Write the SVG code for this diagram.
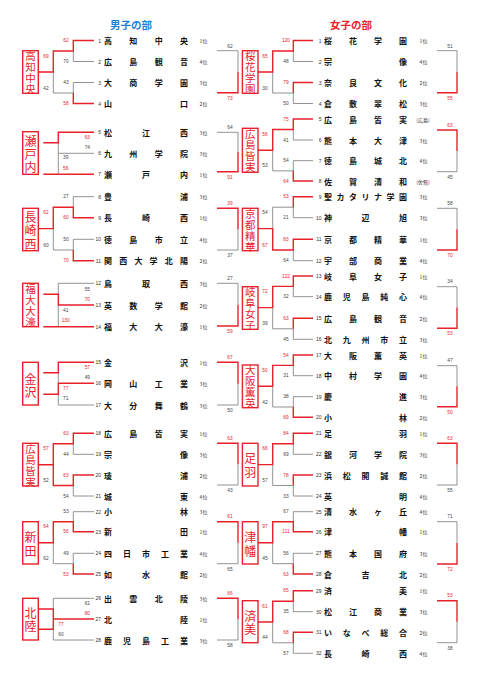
<svg xmlns="http://www.w3.org/2000/svg" width="481" height="680" viewBox="0 0 481 680">
<style>
.r{stroke:#e8212b;stroke-width:1.4;fill:none}
.g{stroke:#777;stroke-width:0.8;fill:none}
.nm{font-family:"Noto Sans CJK JP","Noto Sans",sans-serif;font-size:8px;font-weight:bold;fill:#111;text-anchor:middle;dominant-baseline:central}
.sd{font-family:"Liberation Sans",sans-serif;font-size:5px;fill:#333;text-anchor:end;dominant-baseline:central}
.rk{font-family:"Noto Sans CJK JP",sans-serif;font-size:5px;fill:#333;text-anchor:middle;dominant-baseline:central}
.sr{font-family:"Liberation Sans",sans-serif;font-size:4.8px;fill:#e8212b;text-anchor:middle;dominant-baseline:central}
.sg{font-family:"Liberation Sans",sans-serif;font-size:4.8px;fill:#444;text-anchor:middle;dominant-baseline:central}
.bx{fill:none;stroke:#e8212b;stroke-width:1.4}
.bt{font-family:"Noto Sans CJK JP",sans-serif;font-size:10.5px;fill:#e8212b;text-anchor:middle;dominant-baseline:central}
.bt2{font-family:"Noto Sans CJK JP",sans-serif;font-size:12px;fill:#e8212b;text-anchor:middle;dominant-baseline:central}
.tt{font-family:"Noto Sans CJK JP",sans-serif;font-size:10.5px;font-weight:bold;text-anchor:middle;dominant-baseline:central}
</style>
<rect width="481" height="680" fill="#fff"/>
<g id="titles">
<text class="tt" x="131" y="24" fill="#1e7fd6">男子の部</text>
<text class="tt" x="351" y="24" fill="#e8212b">女子の部</text>
</g>
<g id="connectors">
<g class="g">
<path d="M94 61.5H73.3V51M94 82.5H73.3V93H53.3V72"/>
<path d="M94 153.3H58.3M58.3 142.8V174.3"/>
<path d="M94 196.7H73.3V207.2M94 239.3H73.3V250H53.3V228.6"/>
<path d="M94 283.3H58.3V294.2M58.3 305V326.7"/>
<path d="M58.3 372.8V383.3M58.3 394.2V405H94"/>
<path d="M94 454.3H73.3V443.8M94 496H73.3V485.5"/>
<path d="M94 511.7H73.3V521.7M94 553.3H73.3V563.7H53.3V542.7"/>
<path d="M94 598.3H53.3V609M53.3 629.3V640H94"/>
<path d="M217 50.7H238V71.7M217 132.3H238V152M217 250H238V229.2M217 283.3H238V304.7M217 405H238V383.7M217 485H238V464.2M217 563.7H238V542.7M217 640H238V619.2"/>
<path d="M313 61.5H293.3V51M313 103.5H293.3V93M293.3 93H272.7V72"/>
<path d="M313 140H293.3V129.5M313 160.7H293.3V170.85H272.7V150.2"/>
<path d="M313 217.7H293.3V207.2M293.3 207.2H272.7V228.6M313 260.7H293.3V250"/>
<path d="M313 296.7H293.3V286.35M313 339.3H293.3V328.8M293.3 328.8H272.7V307.6"/>
<path d="M313 375.7H293.3V365.35M313 396.7H293.3V407H272.7V386.2"/>
<path d="M313 454.3H293.3V443.8M313 496H293.3V485.5M293.3 485.5H272.7V464.65"/>
<path d="M313 511.7H293.3V521.7M313 553.3H293.3V563.65H272.7V542.7"/>
<path d="M313 611.7H293.3V601.2M313 653.3H293.3V642.8M293.3 642.8H272.7V622"/>
<path d="M437 50.7H457V71.7M437 171.7H457V150.9M437 208.3H457V229.2M437 286.7H457V307.5M437 365.7H457V386.2M437 485H457V464.2M437 521.7H457V542.9M437 642.7H457V621.7"/>
</g>
<g class="r">
<path d="M94 40.5H73.3V51H53.3V72H38.3M94 103.5H73.3V93"/>
<path d="M94 132.3H58.3V142.8H43.3M43.3 174.3H94"/>
<path d="M94 217.7H73.3V207.2H53.3V228.6H38.3M94 260.7H73.3V250"/>
<path d="M43.3 294.2H58.3V305H94M43.3 326.7H94"/>
<path d="M94 362.3H58.3V372.8H43.3M94 383.3H58.3V394.2H43.3"/>
<path d="M94 433.3H73.3V443.8H53.3V464.7H38.3M94 475H73.3V485.5H53.3V464.7"/>
<path d="M94 531.7H73.3V521.7H53.3V542.7H38.3M94 574H73.3V563.7"/>
<path d="M38.3 609H53.3V629.3H38.3M53.3 619H94"/>
<path d="M217 92.7H238V71.7M217 171.7H238V152M217 208.3H238V229.2M217 326H238V304.7M217 362.3H238V383.7M217 443.3H238V464.2M217 521.7H238V542.7M217 598.3H238V619.2"/>
<path d="M313 40.5H293.3V51H272.7V72H258M313 82.5H293.3V93"/>
<path d="M313 119H293.3V129.5H272.7V150.2H258M313 181H293.3V170.85"/>
<path d="M313 196.7H293.3V207.2M313 239.3H293.3V250H272.7V228.6H258"/>
<path d="M313 276H293.3V286.35H272.7V307.6H258M313 318.3H293.3V328.8"/>
<path d="M313 355H293.3V365.35H272.7V386.2H258M313 417.3H293.3V407"/>
<path d="M313 433.3H293.3V443.8H272.7V464.65H258M313 475H293.3V485.5"/>
<path d="M313 531.7H293.3V521.7H272.7V542.7H258M313 574H293.3V563.65"/>
<path d="M313 590.7H293.3V601.2H272.7V622H258M313 632.3H293.3V642.8"/>
<path d="M437 92.7H457V71.7M437 130H457V150.9M437 250H457V229.2M437 328.3H457V307.5M437 406.7H457V386.2M437 443.3H457V464.2M437 564H457V542.9M437 600.7H457V621.7"/>
</g>
<g id="scores">
<text class="sr" x="66" y="40.5">62</text><text class="sg" x="66" y="61.5">70</text><text class="sg" x="66" y="82.5">43</text><text class="sr" x="66" y="103.5">58</text><text class="sr" x="46" y="56">69</text><text class="sg" x="46" y="88">42</text>
<text class="sr" x="87.3" y="137.7">63</text><text class="sg" x="87.3" y="147.3">74</text><text class="sg" x="65.7" y="157.7">39</text><text class="sr" x="65.7" y="168.3">56</text>
<text class="sg" x="66" y="196.7">27</text><text class="sr" x="66" y="217.7">60</text><text class="sg" x="66" y="239.3">50</text><text class="sr" x="66" y="260.7">70</text><text class="sr" x="46" y="212.2">62</text><text class="sg" x="46" y="245">60</text>
<text class="sg" x="87.3" y="289.3">55</text><text class="sr" x="87.3" y="299.3">70</text><text class="sg" x="65.7" y="310">41</text><text class="sr" x="65.7" y="320">130</text>
<text class="sr" x="87.3" y="367.7">57</text><text class="sg" x="87.3" y="377.7">49</text><text class="sr" x="65.7" y="388.3">77</text><text class="sg" x="65.7" y="398.3">71</text>
<text class="sr" x="66" y="433.3">63</text><text class="sg" x="66" y="454.3">44</text><text class="sr" x="66" y="475">63</text><text class="sg" x="66" y="496">54</text><text class="sr" x="46" y="448.8">57</text><text class="sg" x="46" y="480.5">52</text>
<text class="sg" x="66" y="511.7">53</text><text class="sr" x="66" y="531.7">56</text><text class="sg" x="66" y="553.3">49</text><text class="sr" x="66" y="574">53</text><text class="sr" x="46" y="526.7">64</text><text class="sg" x="46" y="558.7">62</text>
<text class="sg" x="87.3" y="603.3">61</text><text class="sr" x="87.3" y="613.3">80</text><text class="sr" x="61" y="624">77</text><text class="sg" x="61" y="634.3">60</text>
<text class="sg" x="230" y="46">62</text><text class="sr" x="230" y="98.3">73</text>
<text class="sg" x="230" y="127.3">64</text><text class="sr" x="230" y="177">91</text>
<text class="sr" x="230" y="203.3">39</text><text class="sg" x="230" y="255.5">37</text>
<text class="sg" x="230" y="278.3">27</text><text class="sr" x="230" y="331.5">59</text>
<text class="sr" x="230" y="357.3">67</text><text class="sg" x="230" y="410.5">50</text>
<text class="sr" x="230" y="438.3">63</text><text class="sg" x="230" y="490.5">43</text>
<text class="sr" x="230" y="516.7">61</text><text class="sg" x="230" y="569.2">65</text>
<text class="sr" x="230" y="593.3">66</text><text class="sg" x="230" y="645.5">58</text>
<text class="sr" x="286" y="40.5">120</text><text class="sg" x="286" y="61.5">48</text><text class="sr" x="286" y="82.5">79</text><text class="sg" x="286" y="103.5">50</text><text class="sr" x="265" y="56">65</text><text class="sg" x="265" y="88">30</text>
<text class="sr" x="286" y="119">75</text><text class="sg" x="286" y="140">41</text><text class="sg" x="286" y="160.7">54</text><text class="sr" x="286" y="181">64</text><text class="sr" x="265" y="134.5">56</text><text class="sg" x="265" y="165.9">53</text>
<text class="sr" x="286" y="196.7">53</text><text class="sg" x="286" y="217.7">21</text><text class="sr" x="286" y="239.3">83</text><text class="sg" x="286" y="260.7">64</text><text class="sg" x="265" y="212.2">54</text><text class="sr" x="265" y="245">67</text>
<text class="sr" x="286" y="276">122</text><text class="sg" x="286" y="296.7">32</text><text class="sr" x="286" y="318.3">63</text><text class="sg" x="286" y="339.3">45</text><text class="sr" x="265" y="291.4">72</text><text class="sg" x="265" y="323.8">39</text>
<text class="sr" x="286" y="355">54</text><text class="sg" x="286" y="375.7">31</text><text class="sg" x="286" y="396.7">38</text><text class="sr" x="286" y="417.3">69</text><text class="sr" x="265" y="370.4">50</text><text class="sg" x="265" y="402">42</text>
<text class="sr" x="286" y="433.3">84</text><text class="sg" x="286" y="454.3">69</text><text class="sr" x="286" y="475">78</text><text class="sg" x="286" y="496">33</text><text class="sr" x="265" y="448.8">66</text><text class="sg" x="265" y="480.5">57</text>
<text class="sg" x="286" y="511.7">67</text><text class="sr" x="286" y="531.7">111</text><text class="sg" x="286" y="553.3">56</text><text class="sr" x="286" y="574">63</text><text class="sr" x="265" y="526.7">97</text><text class="sg" x="265" y="558.7">45</text>
<text class="sr" x="286" y="590.7">65</text><text class="sg" x="286" y="611.7">35</text><text class="sr" x="286" y="632.3">68</text><text class="sg" x="286" y="653.3">57</text><text class="sr" x="265" y="606.2">61</text><text class="sg" x="265" y="637.8">44</text>
<text class="sg" x="450" y="46">51</text><text class="sr" x="450" y="98.3">55</text>
<text class="sr" x="450" y="125">63</text><text class="sg" x="450" y="177.2">45</text>
<text class="sg" x="450" y="203.3">58</text><text class="sr" x="450" y="255.5">70</text>
<text class="sg" x="450" y="281.7">34</text><text class="sr" x="450" y="333.8">53</text>
<text class="sg" x="450" y="360.7">47</text><text class="sr" x="450" y="412.2">50</text>
<text class="sr" x="450" y="438.3">63</text><text class="sg" x="450" y="490.5">55</text>
<text class="sg" x="450" y="516.7">71</text><text class="sr" x="450" y="569.5">72</text>
<text class="sr" x="450" y="595.7">53</text><text class="sg" x="450" y="648.2">38</text>
</g>
</g>
<g id="winners">
<g id="win-m1"><rect class="bx" x="22.7" y="50.7" width="15.6" height="42.6"/><text class="bt" x="30.5 30.5 30.5 30.5" y="55.5 66.5 77.5 88.5">高知中央</text></g>
<g id="win-m2"><rect class="bx" x="22.7" y="131.7" width="15.6" height="42.6"/><text class="bt2" x="30.5 30.5 30.5" y="140 153.3 166.7">瀬戸内</text></g>
<g id="win-m3"><rect class="bx" x="22.7" y="208.3" width="15.6" height="42.4"/><text class="bt2" x="30.5 30.5 30.5" y="216 229.5 243">長崎西</text></g>
<g id="win-m4"><rect class="bx" x="22.7" y="283.3" width="15.6" height="43.4"/><text class="bt" x="30.5 30.5 30.5 30.5" y="288.5 299.5 310.5 321.5">福大大濠</text></g>
<g id="win-m5"><rect class="bx" x="22.7" y="362.3" width="15.6" height="42.7"/><text class="bt2" x="30.5 30.5" y="378 391">金沢</text></g>
<g id="win-m6"><rect class="bx" x="22.7" y="443.3" width="15.6" height="42.7"/><text class="bt" x="30.5 30.5 30.5 30.5" y="448.2 459.2 470.2 481.2">広島皆実</text></g>
<g id="win-m7"><rect class="bx" x="22.7" y="521.7" width="15.6" height="42.3"/><text class="bt2" x="30.5 30.5" y="536.5 550">新田</text></g>
<g id="win-m8"><rect class="bx" x="22.7" y="598.3" width="15.6" height="41.7"/><text class="bt2" x="30.5 30.5" y="612.5 625.8">北陸</text></g>
<g id="win-w1"><rect class="bx" x="242.4" y="50.7" width="15.6" height="42.6"/><text class="bt" x="250.2 250.2 250.2 250.2" y="55.5 66.5 77.5 88.5">桜花学園</text></g>
<g id="win-w2"><rect class="bx" x="242.4" y="128.3" width="15.6" height="44"/><text class="bt" x="250.2 250.2 250.2 250.2" y="133.8 144.8 155.8 166.8">広島皆実</text></g>
<g id="win-w3"><rect class="bx" x="242.4" y="208.3" width="15.6" height="42.4"/><text class="bt" x="250.2 250.2 250.2 250.2" y="213 224 235 246">京都精華</text></g>
<g id="win-w4"><rect class="bx" x="242.4" y="286.7" width="15.6" height="42.6"/><text class="bt" x="250.2 250.2 250.2 250.2" y="291.5 302.5 313.5 324.5">岐阜女子</text></g>
<g id="win-w5"><rect class="bx" x="242.4" y="365" width="15.6" height="42.7"/><text class="bt" x="250.2 250.2 250.2 250.2" y="369.8 380.8 391.8 402.8">大阪薫英</text></g>
<g id="win-w6"><rect class="bx" x="242.4" y="443.3" width="15.6" height="42.7"/><text class="bt2" x="250.2 250.2" y="457.5 471.5">足羽</text></g>
<g id="win-w7"><rect class="bx" x="242.4" y="521.7" width="15.6" height="42.3"/><text class="bt2" x="250.2 250.2" y="536 550">津幡</text></g>
<g id="win-w8"><rect class="bx" x="242.4" y="600.7" width="15.6" height="42"/><text class="bt2" x="250.2 250.2" y="615 628.5">済美</text></g>
</g>
<g id="men">
<g id="m01"><text class="sd" x="101" y="40.5">1</text><text class="nm" x="108 133.3 158.7 184" y="40.5">高知中央</text><text class="rk" x="203.5" y="40.5">1位</text></g>
<g id="m02"><text class="sd" x="101" y="61.5">2</text><text class="nm" x="108 133.3 158.7 184" y="61.5">広島観音</text><text class="rk" x="203.5" y="61.5">4位</text></g>
<g id="m03"><text class="sd" x="101" y="82.5">3</text><text class="nm" x="108 133.3 158.7 184" y="82.5">大商学園</text><text class="rk" x="203.5" y="82.5">3位</text></g>
<g id="m04"><text class="sd" x="101" y="103.5">4</text><text class="nm" x="108 184" y="103.5">山口</text><text class="rk" x="203.5" y="103.5">2位</text></g>
<g id="m05"><text class="sd" x="101" y="132.3">5</text><text class="nm" x="108 146 184" y="132.3">松江西</text><text class="rk" x="203.5" y="132.3">3位</text></g>
<g id="m06"><text class="sd" x="101" y="153.3">6</text><text class="nm" x="108 133.3 158.7 184" y="153.3">九州学院</text><text class="rk" x="203.5" y="153.3">3位</text></g>
<g id="m07"><text class="sd" x="101" y="174.3">7</text><text class="nm" x="108 146 184" y="174.3">瀬戸内</text><text class="rk" x="203.5" y="174.3">1位</text></g>
<g id="m08"><text class="sd" x="101" y="196.7">8</text><text class="nm" x="108 184" y="196.7">豊浦</text><text class="rk" x="203.5" y="196.7">3位</text></g>
<g id="m09"><text class="sd" x="101" y="217.7">9</text><text class="nm" x="108 146 184" y="217.7">長崎西</text><text class="rk" x="203.5" y="217.7">1位</text></g>
<g id="m10"><text class="sd" x="101" y="239.3">10</text><text class="nm" x="108 133.3 158.7 184" y="239.3">徳島市立</text><text class="rk" x="203.5" y="239.3">4位</text></g>
<g id="m11"><text class="sd" x="101" y="260.7">11</text><text class="nm" x="108 123.2 138.4 153.6 168.8 184" y="260.7">関西大学北陽</text><text class="rk" x="203.5" y="260.7">2位</text></g>
<g id="m12"><text class="sd" x="101" y="283.3">12</text><text class="nm" x="108 146 184" y="283.3">鳥取西</text><text class="rk" x="203.5" y="283.3">3位</text></g>
<g id="m13"><text class="sd" x="101" y="305">13</text><text class="nm" x="108 133.3 158.7 184" y="305">英数学館</text><text class="rk" x="203.5" y="305">2位</text></g>
<g id="m14"><text class="sd" x="101" y="326.7">14</text><text class="nm" x="108 133.3 158.7 184" y="326.7">福大大濠</text><text class="rk" x="203.5" y="326.7">1位</text></g>
<g id="m15"><text class="sd" x="101" y="362.3">15</text><text class="nm" x="108 184" y="362.3">金沢</text><text class="rk" x="203.5" y="362.3">1位</text></g>
<g id="m16"><text class="sd" x="101" y="383.3">16</text><text class="nm" x="108 133.3 158.7 184" y="383.3">岡山工業</text><text class="rk" x="203.5" y="383.3">3位</text></g>
<g id="m17"><text class="sd" x="101" y="405">17</text><text class="nm" x="108 133.3 158.7 184" y="405">大分舞鶴</text><text class="rk" x="203.5" y="405">3位</text></g>
<g id="m18"><text class="sd" x="101" y="433.3">18</text><text class="nm" x="108 133.3 158.7 184" y="433.3">広島皆実</text><text class="rk" x="203.5" y="433.3">1位</text></g>
<g id="m19"><text class="sd" x="101" y="454.3">19</text><text class="nm" x="108 184" y="454.3">宗像</text><text class="rk" x="203.5" y="454.3">3位</text></g>
<g id="m20"><text class="sd" x="101" y="475">20</text><text class="nm" x="108 184" y="475">瓊浦</text><text class="rk" x="203.5" y="475">2位</text></g>
<g id="m21"><text class="sd" x="101" y="496">21</text><text class="nm" x="108 184" y="496">城東</text><text class="rk" x="203.5" y="496">4位</text></g>
<g id="m22"><text class="sd" x="101" y="511.7">22</text><text class="nm" x="108 184" y="511.7">小林</text><text class="rk" x="203.5" y="511.7">3位</text></g>
<g id="m23"><text class="sd" x="101" y="531.7">23</text><text class="nm" x="108 184" y="531.7">新田</text><text class="rk" x="203.5" y="531.7">1位</text></g>
<g id="m24"><text class="sd" x="101" y="553.3">24</text><text class="nm" x="108 127 146 165 184" y="553.3">四日市工業</text><text class="rk" x="203.5" y="553.3">4位</text></g>
<g id="m25"><text class="sd" x="101" y="574">25</text><text class="nm" x="108 146 184" y="574">如水館</text><text class="rk" x="203.5" y="574">2位</text></g>
<g id="m26"><text class="sd" x="101" y="598.3">26</text><text class="nm" x="108 133.3 158.7 184" y="598.3">出雲北陵</text><text class="rk" x="203.5" y="598.3">3位</text></g>
<g id="m27"><text class="sd" x="101" y="619">27</text><text class="nm" x="108 184" y="619">北陸</text><text class="rk" x="203.5" y="619">1位</text></g>
<g id="m28"><text class="sd" x="101" y="640">28</text><text class="nm" x="108 127 146 165 184" y="640">鹿児島工業</text><text class="rk" x="203.5" y="640">3位</text></g>
</g>
<g id="women">
<g id="w01"><text class="sd" x="321.5" y="40.5">1</text><text class="nm" x="328 353 378 403" y="40.5">桜花学園</text><text class="rk" x="423.5" y="40.5">1位</text></g>
<g id="w02"><text class="sd" x="321.5" y="61.5">2</text><text class="nm" x="328 403" y="61.5">宗像</text><text class="rk" x="423.5" y="61.5">4位</text></g>
<g id="w03"><text class="sd" x="321.5" y="82.5">3</text><text class="nm" x="328 353 378 403" y="82.5">奈良文化</text><text class="rk" x="423.5" y="82.5">2位</text></g>
<g id="w04"><text class="sd" x="321.5" y="103.5">4</text><text class="nm" x="328 353 378 403" y="103.5">倉敷翠松</text><text class="rk" x="423.5" y="103.5">3位</text></g>
<g id="w05"><text class="sd" x="321.5" y="119">5</text><text class="nm" x="328 353 378 403" y="119">広島皆実</text><text class="rk" x="423" y="119">(広島)</text></g>
<g id="w06"><text class="sd" x="321.5" y="140">6</text><text class="nm" x="328 353 378 403" y="140">熊本大津</text><text class="rk" x="423.5" y="140">3位</text></g>
<g id="w07"><text class="sd" x="321.5" y="160.7">7</text><text class="nm" x="328 353 378 403" y="160.7">徳島城北</text><text class="rk" x="423.5" y="160.7">4位</text></g>
<g id="w08"><text class="sd" x="321.5" y="181">8</text><text class="nm" x="328 353 378 403" y="181">佐賀清和</text><text class="rk" x="423" y="181">(佐賀)</text></g>
<g id="w09"><text class="sd" x="321.5" y="196.7">9</text><text class="nm" x="328 340.5 353 365.5 378 390.5 403" y="196.7">聖カタリナ学園</text><text class="rk" x="423.5" y="196.7">3位</text></g>
<g id="w10"><text class="sd" x="321.5" y="217.7">10</text><text class="nm" x="328 365.5 403" y="217.7">神辺旭</text><text class="rk" x="423.5" y="217.7">3位</text></g>
<g id="w11"><text class="sd" x="321.5" y="239.3">11</text><text class="nm" x="328 353 378 403" y="239.3">京都精華</text><text class="rk" x="423.5" y="239.3">1位</text></g>
<g id="w12"><text class="sd" x="321.5" y="260.7">12</text><text class="nm" x="328 353 378 403" y="260.7">宇部商業</text><text class="rk" x="423.5" y="260.7">4位</text></g>
<g id="w13"><text class="sd" x="321.5" y="276">13</text><text class="nm" x="328 353 378 403" y="276">岐阜女子</text><text class="rk" x="423.5" y="276">1位</text></g>
<g id="w14"><text class="sd" x="321.5" y="296.7">14</text><text class="nm" x="328 346.75 365.5 384.25 403" y="296.7">鹿児島純心</text><text class="rk" x="423.5" y="296.7">4位</text></g>
<g id="w15"><text class="sd" x="321.5" y="318.3">15</text><text class="nm" x="328 353 378 403" y="318.3">広島観音</text><text class="rk" x="423.5" y="318.3">2位</text></g>
<g id="w16"><text class="sd" x="321.5" y="339.3">16</text><text class="nm" x="328 346.75 365.5 384.25 403" y="339.3">北九州市立</text><text class="rk" x="423.5" y="339.3">3位</text></g>
<g id="w17"><text class="sd" x="321.5" y="355">17</text><text class="nm" x="328 353 378 403" y="355">大阪薫英</text><text class="rk" x="423.5" y="355">1位</text></g>
<g id="w18"><text class="sd" x="321.5" y="375.7">18</text><text class="nm" x="328 353 378 403" y="375.7">中村学園</text><text class="rk" x="423.5" y="375.7">4位</text></g>
<g id="w19"><text class="sd" x="321.5" y="396.7">19</text><text class="nm" x="328 403" y="396.7">慶進</text><text class="rk" x="423.5" y="396.7">3位</text></g>
<g id="w20"><text class="sd" x="321.5" y="417.3">20</text><text class="nm" x="328 403" y="417.3">小林</text><text class="rk" x="423.5" y="417.3">2位</text></g>
<g id="w21"><text class="sd" x="321.5" y="433.3">21</text><text class="nm" x="328 403" y="433.3">足羽</text><text class="rk" x="423.5" y="433.3">1位</text></g>
<g id="w22"><text class="sd" x="321.5" y="454.3">22</text><text class="nm" x="328 353 378 403" y="454.3">銀河学院</text><text class="rk" x="423.5" y="454.3">3位</text></g>
<g id="w23"><text class="sd" x="321.5" y="475">23</text><text class="nm" x="328 346.75 365.5 384.25 403" y="475">浜松開誠館</text><text class="rk" x="423.5" y="475">2位</text></g>
<g id="w24"><text class="sd" x="321.5" y="496">24</text><text class="nm" x="328 403" y="496">英明</text><text class="rk" x="423.5" y="496">4位</text></g>
<g id="w25"><text class="sd" x="321.5" y="511.7">25</text><text class="nm" x="328 353 378 403" y="511.7">清水ヶ丘</text><text class="rk" x="423.5" y="511.7">4位</text></g>
<g id="w26"><text class="sd" x="321.5" y="531.7">26</text><text class="nm" x="328 403" y="531.7">津幡</text><text class="rk" x="423.5" y="531.7">1位</text></g>
<g id="w27"><text class="sd" x="321.5" y="553.3">27</text><text class="nm" x="328 353 378 403" y="553.3">熊本国府</text><text class="rk" x="423.5" y="553.3">3位</text></g>
<g id="w28"><text class="sd" x="321.5" y="574">28</text><text class="nm" x="328 365.5 403" y="574">倉吉北</text><text class="rk" x="423.5" y="574">2位</text></g>
<g id="w29"><text class="sd" x="321.5" y="590.7">29</text><text class="nm" x="328 403" y="590.7">済美</text><text class="rk" x="423.5" y="590.7">1位</text></g>
<g id="w30"><text class="sd" x="321.5" y="611.7">30</text><text class="nm" x="328 353 378 403" y="611.7">松江商業</text><text class="rk" x="423.5" y="611.7">3位</text></g>
<g id="w31"><text class="sd" x="321.5" y="632.3">31</text><text class="nm" x="328 346.75 365.5 384.25 403" y="632.3">いなべ総合</text><text class="rk" x="423.5" y="632.3">2位</text></g>
<g id="w32"><text class="sd" x="321.5" y="653.3">32</text><text class="nm" x="328 365.5 403" y="653.3">長崎西</text><text class="rk" x="423.5" y="653.3">4位</text></g>
</g>
</svg>
